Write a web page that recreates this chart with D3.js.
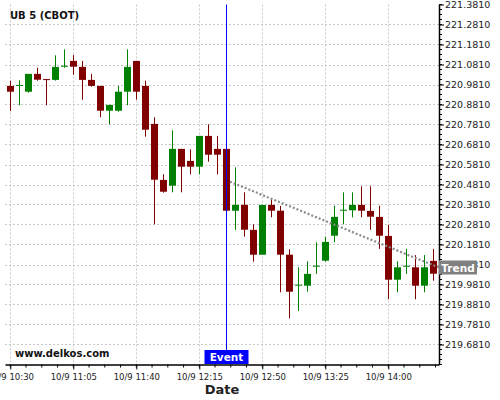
<!DOCTYPE html>
<meta charset="utf-8">
<style>
body { margin: 0; }
svg { overflow: hidden; font-family: "DejaVu Sans", sans-serif; }
.grid line { stroke: #c8c8c8; stroke-width: 1; stroke-dasharray: 2,2; }
</style>
<svg width="500" height="400">
  <rect width="100%" height="100%" fill="white"/>
</svg>
<script src="https://d3js.org/d3.v7.min.js"></script>
<script>

var times = ["10:30","10:35","10:40","10:45","10:50","10:55","11:00","11:05",
             "11:10","11:15","11:20","11:25","11:30","11:35","11:40","11:45",
             "11:50","11:55","12:00","12:05","12:10","12:15","12:20","12:25",
             "12:30","12:35","12:40","12:45","12:50","12:55","13:00","13:05",
             "13:10","13:15","13:20","13:25","13:30","13:35","13:40","13:45",
             "13:50","13:55","14:00","14:05","14:10","14:15","14:20","14:25"];

var opens  = [220.974,220.975,220.945,221.034,221.008,221.004,221.070,221.099,
              221.069,221.004,220.974,220.850,220.850,220.945,221.099,220.974,
              220.784,220.504,220.475,220.659,220.599,220.570,220.724,220.659,
              220.659,220.350,220.379,220.254,220.130,220.379,220.350,220.130,
              219.975,219.975,220.070,220.100,220.225,220.352,220.352,220.379,
              220.349,220.319,220.224,220.005,220.070,220.067,219.975,220.099];
var highs  = [221.000,221.002,221.034,221.065,221.008,221.127,221.157,221.128,
              221.099,221.034,220.974,220.879,220.974,221.157,221.099,221.000,
              220.817,220.532,220.752,220.659,220.657,220.724,220.782,220.724,
              220.659,220.567,220.442,220.282,220.379,220.407,220.374,220.157,
              220.067,220.097,220.192,220.220,220.375,220.442,220.442,220.472,
              220.472,220.375,220.279,220.097,220.159,220.128,220.128,220.159];
var lows   = [220.848,220.877,220.940,221.000,220.877,221.000,221.065,221.030,
              220.905,220.970,220.817,220.782,220.845,220.877,220.905,220.720,
              220.282,220.440,220.442,220.442,220.532,220.532,220.595,220.532,
              220.350,220.254,220.220,220.095,220.130,220.317,219.942,219.812,
              219.849,219.945,220.034,220.095,220.192,220.282,220.317,220.317,
              220.254,220.159,219.907,219.942,220.034,219.907,219.942,220.000];
var closes = [220.945,220.979,221.034,221.005,221.005,221.069,221.075,221.070,
              221.004,220.974,220.850,220.879,220.945,221.069,220.945,220.755,
              220.505,220.445,220.659,220.570,220.570,220.724,220.630,220.630,
              220.350,220.379,220.255,220.130,220.379,220.350,220.130,219.945,
              219.980,220.034,220.075,220.194,220.319,220.355,220.379,220.350,
              220.320,220.225,220.005,220.067,220.075,219.975,220.067,220.035];

var xTickTimes = ["10:30","11:05","11:40","12:15","12:50","13:25","14:00"];
var yTickValues = [219.681,219.781,219.881,219.981,220.081,220.181,220.281,220.381,220.481,
                   220.581,220.681,220.781,220.881,220.981,221.081,221.181,221.281,221.381];

var eventTime = "12:30";
var trendTimes = ["12:32","14:28"];
var trendValues = [220.495, 220.066];

var title = "UB 5 (CBOT)";
var watermark = "www.delkos.com";

var parseT = function(s) { return d3.timeParse("%Y-%m-%d %H:%M")("2015-10-09 " + s); };

var svg = d3.select("svg");
var plotL = 5, plotR = 439, plotT = 4.5, plotB = 364.5;

var x = d3.scaleTime()
    .domain([new Date(+parseT("10:30") - 177000), new Date(+parseT("10:30") + 238.17 * 60000)])
    .range([plotL, plotR]);
var y = d3.scaleLinear()
    .domain([219.581, 221.381])
    .range([plotB, plotT]);

var candles = times.map(function(t, i) {
    return { t: parseT(t), o: opens[i], h: highs[i], l: lows[i], c: closes[i] };
});

// grid
var grid = svg.append("g").attr("class", "grid");
grid.selectAll("line.h")
    .data(yTickValues.filter(function(v) { return v < 221.38; }))
    .enter().append("line")
    .attr("x1", plotL).attr("x2", plotR)
    .attr("y1", function(d) { return Math.round(y(d)) + 0.5; })
    .attr("y2", function(d) { return Math.round(y(d)) + 0.5; });
grid.selectAll("line.v")
    .data(xTickTimes.map(parseT))
    .enter().append("line")
    .attr("y1", plotT).attr("y2", plotB)
    .attr("x1", function(d) { return Math.round(x(d)) + 0.5; })
    .attr("x2", function(d) { return Math.round(x(d)) + 0.5; });

// candles
var cg = svg.append("g");
cg.selectAll("line")
    .data(candles)
    .enter().append("line")
    .attr("x1", function(d) { return Math.round(x(d.t)) + 0.5; })
    .attr("x2", function(d) { return Math.round(x(d.t)) + 0.5; })
    .attr("y1", function(d) { return y(d.h); })
    .attr("y2", function(d) { return y(d.l); })
    .attr("stroke", function(d) { return d.c >= d.o ? "#008000" : "#800000"; })
    .attr("stroke-width", 1);
cg.selectAll("rect")
    .data(candles)
    .enter().append("rect")
    .attr("x", function(d) { return Math.round(x(d.t)) - 3; })
    .attr("width", 7)
    .attr("y", function(d) { return y(Math.max(d.o, d.c)); })
    .attr("height", function(d) { return Math.max(1, Math.abs(y(d.o) - y(d.c))); })
    .attr("fill", function(d) { return d.c >= d.o ? "#008000" : "#800000"; });

// trend
svg.append("line")
    .attr("x1", x(parseT(trendTimes[0]))).attr("y1", y(trendValues[0]))
    .attr("x2", x(parseT(trendTimes[1]))).attr("y2", y(trendValues[1]))
    .attr("stroke", "#8a8a8a")
    .attr("stroke-width", 2.2)
    .attr("stroke-dasharray", "2,2");

// event
var ex = Math.round(x(parseT(eventTime))) + 0.5;
svg.append("line")
    .attr("x1", ex).attr("x2", ex)
    .attr("y1", plotT).attr("y2", 350)
    .attr("stroke", "#0000ff")
    .attr("stroke-width", 1);
svg.append("rect")
    .attr("x", ex - 22).attr("y", 350)
    .attr("width", 44).attr("height", 14)
    .attr("fill", "#0000ff");
svg.append("text")
    .attr("x", ex).attr("y", 361)
    .attr("text-anchor", "middle")
    .attr("font-size", "10.5px").attr("font-weight", "bold")
    .attr("fill", "white")
    .text("Event");

// axes
var yAxis = d3.axisRight(y)
    .tickValues(yTickValues)
    .tickFormat(d3.format(".4f"))
    .tickSizeInner(5).tickSizeOuter(0);
var ya = svg.append("g")
    .attr("transform", "translate(" + plotR + ",0)")
    .call(yAxis);
ya.select(".domain").attr("stroke", "#000").attr("stroke-width", 1.5);
ya.selectAll("text").attr("font-size", "9.5px").attr("font-family", "DejaVu Sans")
    .attr("fill", "#222").attr("x", 6);

var minorY = d3.range(0, 73).map(function(i) { return 219.581 + i * 0.025; });
svg.append("g").selectAll("line")
    .data(minorY)
    .enter().append("line")
    .attr("x1", plotR).attr("x2", plotR + 3)
    .attr("y1", function(d) { return y(d); })
    .attr("y2", function(d) { return y(d); })
    .attr("stroke", "#000");

var xAxis = d3.axisBottom(x)
    .tickValues(xTickTimes.map(parseT))
    .tickFormat(d3.timeFormat("%-m/%-d %H:%M"))
    .tickSizeInner(5).tickSizeOuter(0);
var xa = svg.append("g")
    .attr("transform", "translate(0," + plotB + ")")
    .call(xAxis);
xa.select(".domain").attr("stroke", "#000").attr("stroke-width", 1.5);
xa.selectAll("text").attr("font-size", "8.5px").attr("font-family", "DejaVu Sans")
    .attr("fill", "#222").attr("y", 9);

var minorX = d3.range(-1, 28).map(function(i) { return new Date(+parseT("10:30") + i * 8.75 * 60000); })
    .filter(function(d) { return x(d) >= plotL && x(d) <= plotR; });
svg.append("g").selectAll("line")
    .data(minorX)
    .enter().append("line")
    .attr("x1", function(d) { return x(d); })
    .attr("x2", function(d) { return x(d); })
    .attr("y1", plotB).attr("y2", plotB + 3)
    .attr("stroke", "#000");

// trend label
var ty = y(trendValues[1]);
svg.append("rect")
    .attr("x", plotR).attr("y", ty - 7)
    .attr("width", 38).attr("height", 14)
    .attr("fill", "#808080");
svg.append("text")
    .attr("x", plotR + 19).attr("y", ty + 4)
    .attr("text-anchor", "middle")
    .attr("font-size", "10.5px").attr("font-weight", "bold")
    .attr("fill", "white")
    .text("Trend");

// texts
svg.append("text")
    .attr("x", 10).attr("y", 19)
    .attr("font-size", "10px").attr("font-weight", "bold")
    .attr("fill", "#111")
    .text(title);
svg.append("text")
    .attr("x", 15).attr("y", 357)
    .attr("font-size", "10px").attr("font-weight", "bold")
    .attr("fill", "#111")
    .text(watermark);
svg.append("text")
    .attr("x", 222).attr("y", 394)
    .attr("text-anchor", "middle")
    .attr("font-size", "13px").attr("font-weight", "bold")
    .attr("fill", "#222")
    .text("Date");

</script>
